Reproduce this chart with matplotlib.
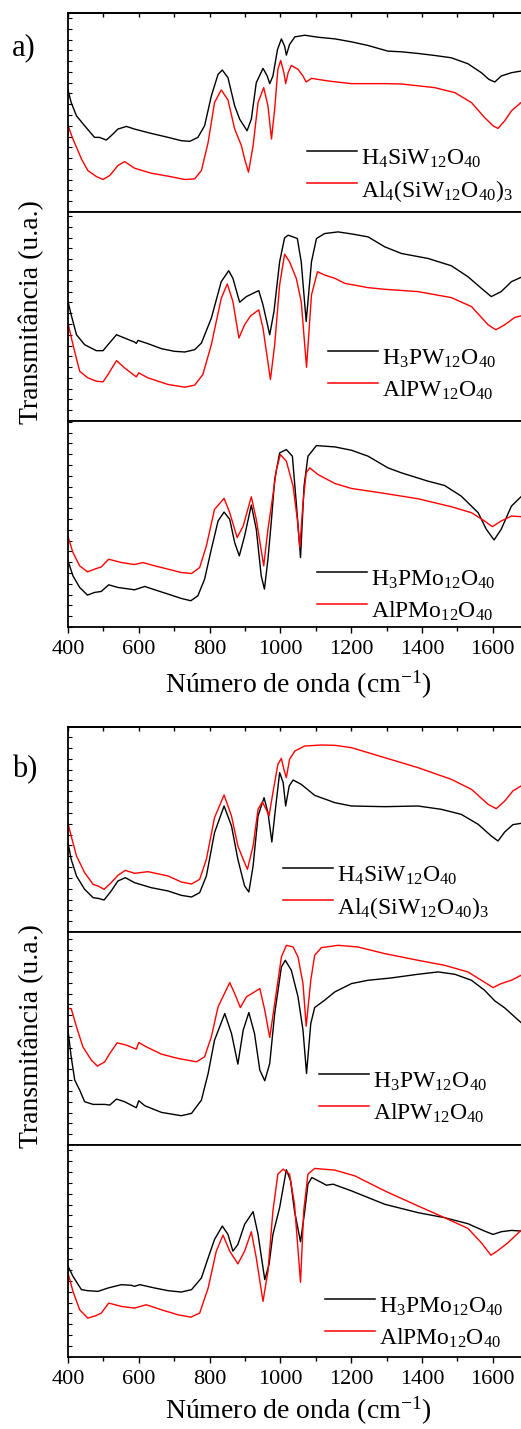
import matplotlib
matplotlib.use('Agg')
import matplotlib.pyplot as plt
from matplotlib.ticker import MultipleLocator, NullFormatter

plt.rcParams['font.family'] = ['Liberation Serif', 'DejaVu Serif']
plt.rcParams['mathtext.fontset'] = 'custom'
plt.rcParams['mathtext.rm'] = 'Liberation Serif'
plt.rcParams['mathtext.default'] = 'regular'

# ---------------------------------------------------------------- data
# wavenumber (cm-1) / transmittance (arbitrary units)

# a) top : H4SiW12O40 / Al4(SiW12O40)3
a1_black_x = [400, 409, 424, 447, 475, 489, 508, 522, 541, 565, 588, 635, 683, 720, 744, 767, 786, 805,
              824, 836, 852, 871, 885, 906, 918, 932, 951, 963, 970, 979, 992, 1003, 1012, 1017, 1026,
              1041, 1069, 1106, 1154, 1201, 1248, 1304, 1342, 1389, 1436, 1483, 1530, 1568, 1589, 1606,
              1624, 1653, 1680]
a1_black_y = [368, 330, 290, 260, 225, 225, 217, 230, 250, 258, 250, 237, 225, 215, 213, 225, 260, 350,
              415, 428, 405, 320, 280, 245, 280, 390, 433, 410, 387, 410, 490, 522, 500, 473, 505,
              528, 533, 527, 522, 513, 502, 485, 483, 478, 472, 465, 447, 420, 400, 392,
              410, 420, 425]
a1_red_x = [400, 414, 438, 456, 480, 499, 518, 541, 560, 588, 635, 683, 730, 758, 777, 796, 814, 833,
            852, 871, 890, 899, 910, 923, 937, 953, 965, 975, 984, 993, 1001, 1010, 1015, 1022, 1031,
            1050, 1064, 1073, 1088, 1135, 1201, 1295, 1342, 1436, 1493, 1540, 1577, 1601, 1615, 1634,
            1653, 1680]
a1_red_y = [260, 220, 160, 125, 107, 98, 110, 140, 152, 132, 117, 108, 98, 100, 125, 210, 330, 368,
            338, 250, 200, 160, 120, 200, 330, 375, 320, 220, 310, 430, 457, 420, 387, 420, 442,
            430, 410, 392, 403, 395, 387, 387, 386, 375, 360, 330, 285, 260, 252, 275,
            305, 330]

# a) middle : H3PW12O40 / AlPW12O40
a2_black_x = [400, 409, 424, 447, 480, 499, 513, 537, 560, 588, 593, 598, 626, 664, 701, 730, 758, 777,
              805, 833, 854, 866, 885, 904, 927, 939, 951, 970, 982, 998, 1012, 1022, 1036, 1048, 1059,
              1073, 1088, 1102, 1125, 1163, 1201, 1248, 1295, 1342, 1417, 1483, 1530, 1568, 1596, 1624,
              1653, 1680]
a2_black_y = [360, 320, 260, 230, 212, 212, 230, 260, 250, 238, 234, 243, 233, 218, 210, 208, 215, 235,
              310, 420, 453, 430, 358, 375, 387, 393, 350, 260, 330, 480, 552, 560, 555, 550, 480,
              300, 480, 550, 565, 570, 564, 555, 525, 505, 490, 468, 435, 400, 375, 390,
              420, 433]
a2_red_x = [400, 414, 433, 456, 480, 499, 513, 537, 560, 588, 593, 600, 626, 683, 730, 758, 781, 805,
            833, 850, 866, 883, 899, 916, 939, 951, 972, 984, 998, 1012, 1026, 1045, 1059, 1074, 1088,
            1105, 1125, 1154, 1182, 1248, 1295, 1389, 1483, 1540, 1587, 1609, 1634, 1662, 1680]
a2_red_y = [295, 230, 150, 130, 120, 118, 140, 182, 160, 137, 133, 145, 130, 110, 102, 108, 140, 230,
            370, 413, 360, 250, 290, 317, 335, 280, 125, 230, 410, 503, 480, 430, 360, 162, 380,
            450, 440, 430, 415, 402, 397, 390, 372, 345, 290, 275, 290, 312, 317]

# a) bottom : H3PMo12O40 / AlPMo12O40
a3_black_x = [400, 414, 433, 455, 475, 494, 515, 541, 588, 617, 645, 683, 720, 747, 767, 786, 805, 824,
              841, 857, 871, 884, 899, 918, 932, 946, 955, 965, 975, 984, 998, 1017, 1034, 1045, 1057,
              1067, 1078, 1102, 1154, 1201, 1248, 1304, 1342, 1417, 1464, 1511, 1559, 1582, 1604, 1624,
              1653, 1680]
a3_black_y = [199, 154, 119, 96, 104, 107, 127, 119, 112, 122, 112, 99, 86, 79, 94, 144, 234, 319,
              346, 324, 254, 214, 274, 367, 294, 154, 114, 204, 324, 444, 524, 534, 514, 374, 209,
              424, 514, 546, 542, 532, 514, 479, 464, 439, 426, 394, 344, 294, 262, 294,
              364, 392]
a3_red_x = [400, 414, 433, 455, 475, 494, 515, 551, 588, 612, 645, 683, 720, 749, 772, 791, 814, 841,
            857, 878, 895, 918, 932, 953, 965, 976, 989, 1000, 1017, 1036, 1048, 1055, 1064, 1073, 1083,
            1106, 1154, 1201, 1295, 1389, 1483, 1540, 1577, 1599, 1624, 1653, 1680]
a3_red_y = [272, 224, 184, 166, 174, 181, 204, 194, 188, 194, 184, 174, 164, 161, 179, 244, 354, 387,
            344, 269, 304, 392, 324, 184, 294, 374, 474, 519, 499, 424, 324, 239, 374, 464, 479,
            459, 432, 417, 402, 386, 362, 344, 319, 302, 319, 334, 332]

# b) top : H4SiW12O40 / Al4(SiW12O40)3
b1_black_x = [400, 409, 424, 447, 471, 485, 502, 522, 541, 562, 588, 635, 683, 720, 749, 772, 791, 814,
              841, 862, 880, 899, 911, 923, 937, 954, 965, 976, 986, 998, 1008, 1015, 1025, 1036, 1059,
              1097, 1154, 1201, 1295, 1389, 1455, 1511, 1559, 1596, 1615, 1634, 1657, 1680]
b1_black_y = [268, 218, 168, 128, 103, 101, 96, 123, 153, 163, 148, 133, 123, 110, 105, 118, 168, 298,
              378, 318, 218, 138, 120, 198, 348, 403, 358, 270, 368, 478, 448, 378, 438, 456, 443,
              410, 388, 378, 376, 378, 368, 353, 323, 288, 273, 300, 322, 326]
b1_red_x = [400, 409, 424, 447, 471, 485, 502, 522, 541, 562, 588, 626, 683, 720, 749, 772, 791, 814,
            841, 862, 880, 895, 907, 923, 937, 949, 960, 968, 979, 993, 1003, 1010, 1017, 1026, 1041,
            1069, 1116, 1154, 1201, 1295, 1389, 1483, 1540, 1587, 1610, 1634, 1657, 1680]
b1_red_y = [326, 288, 228, 178, 143, 138, 128, 148, 170, 185, 176, 181, 168, 150, 144, 158, 218, 343,
            411, 348, 258, 218, 188, 258, 368, 390, 368, 348, 418, 503, 521, 488, 463, 518, 543,
            558, 561, 560, 553, 523, 493, 458, 428, 383, 370, 393, 423, 438]

# b) middle : H3PW12O40 / AlPW12O40
b2_black_x = [400, 409, 419, 433, 447, 471, 504, 518, 537, 560, 593, 600, 617, 664, 720, 749, 777, 796,
              814, 843, 862, 880, 895, 911, 927, 942, 956, 970, 984, 1003, 1014, 1031, 1050, 1064, 1074,
              1086, 1097, 1125, 1154, 1201, 1248, 1314, 1389, 1446, 1493, 1540, 1577, 1606, 1634, 1662,
              1680]
b2_black_y = [345, 265, 195, 165, 130, 122, 122, 120, 138, 130, 112, 133, 118, 98, 88, 95, 135, 215,
              315, 395, 335, 243, 345, 398, 335, 225, 193, 245, 395, 535, 555, 525, 445, 345, 215,
              365, 413, 435, 460, 485, 495, 502, 513, 520, 513, 495, 465, 433, 412, 385,
              368]
b2_red_x = [400, 409, 424, 442, 466, 483, 504, 518, 539, 565, 593, 600, 621, 664, 711, 763, 786, 805,
            824, 857, 871, 887, 904, 927, 942, 956, 970, 984, 1003, 1017, 1036, 1050, 1064, 1073, 1086,
            1097, 1116, 1163, 1219, 1295, 1389, 1464, 1530, 1568, 1601, 1624, 1653, 1680]
b2_red_y = [410, 410, 355, 295, 255, 237, 250, 275, 307, 300, 288, 308, 295, 273, 260, 250, 265, 325,
            415, 488, 455, 413, 445, 460, 470, 405, 323, 425, 565, 600, 595, 565, 485, 357, 495,
            570, 593, 600, 595, 575, 555, 540, 520, 495, 473, 485, 495, 510]

# b) bottom : H3PMo12O40 / AlPMo12O40
b3_black_x = [400, 414, 438, 456, 485, 513, 551, 579, 588, 603, 645, 683, 720, 749, 777, 796, 814, 836,
              852, 866, 880, 899, 923, 937, 956, 968, 979, 998, 1008, 1017, 1029, 1040, 1057, 1069, 1078,
              1089, 1116, 1130, 1149, 1201, 1295, 1389, 1464, 1530, 1577, 1601, 1624, 1653, 1680]
b3_black_y = [271, 241, 201, 198, 196, 206, 216, 214, 211, 216, 206, 198, 194, 201, 236, 296, 351, 391,
              366, 316, 336, 396, 434, 366, 231, 276, 366, 446, 506, 559, 526, 436, 344, 436, 516,
              536, 521, 513, 516, 496, 456, 431, 416, 398, 376, 366, 374, 378, 376]
b3_red_x = [400, 414, 433, 456, 480, 494, 515, 551, 588, 621, 664, 711, 747, 772, 796, 819, 838, 857,
            880, 899, 918, 932, 951, 965, 979, 993, 1008, 1026, 1040, 1057, 1066, 1078, 1097, 1154, 1210,
            1295, 1389, 1464, 1530, 1568, 1595, 1615, 1643, 1680]
b3_red_y = [251, 196, 141, 116, 124, 131, 161, 151, 146, 156, 141, 126, 119, 131, 206, 316, 364, 316,
            278, 316, 374, 296, 166, 256, 436, 546, 561, 546, 456, 223, 436, 546, 563, 558, 541,
            496, 451, 416, 384, 341, 304, 318, 341, 378]

lbl_siw = ['H$_4$SiW$_{12}$O$_{40}$', 'Al$_4$(SiW$_{12}$O$_{40}$)$_3$']
lbl_pw = ['H$_3$PW$_{12}$O$_{40}$', 'AlPW$_{12}$O$_{40}$']
lbl_pmo = ['H$_3$PMo$_{12}$O$_{40}$', 'AlPMo$_{12}$O$_{40}$']

# ---------------------------------------------------------------- layout (pixels)
W, H = 521, 1429
LEFT = 68

# top px, bottom px, ymax, data, labels, legend line x (px), legend row y (px)
panels = [
    (13, 212, 600, (a1_black_x, a1_black_y, a1_red_x, a1_red_y), lbl_siw, 307, 151),
    (212, 421, 630, (a2_black_x, a2_black_y, a2_red_x, a2_red_y), lbl_pw, 328, 351),
    (421, 627, 620, (a3_black_x, a3_black_y, a3_red_x, a3_red_y), lbl_pmo, 317, 572),
    (727, 932, 615, (b1_black_x, b1_black_y, b1_red_x, b1_red_y), lbl_siw, 283, 868),
    (932, 1145, 640, (b2_black_x, b2_black_y, b2_red_x, b2_red_y), lbl_pw, 319, 1074),
    (1145, 1357, 633, (b3_black_x, b3_black_y, b3_red_x, b3_red_y), lbl_pmo, 325, 1299),
]


def draw_legend(fig, lx, ly, labels):
    # hand-made legend: short line, text baseline a bit below the line
    for i, (lab, col) in enumerate(zip(labels, ['black', 'red'])):
        y = ly + i * 32
        fig.add_artist(plt.Line2D([lx / W, (lx + 50) / W], [1 - y / H, 1 - y / H],
                                  color=col, lw=1.1, transform=fig.transFigure))
        fig.text((lx + 54) / W, 1 - (y + 14) / H, lab, fontsize=17,
                 ha='left', va='baseline')


fig = plt.figure(figsize=(W / 100, H / 100), dpi=100)

for k, (top, bot, ymax, (bx, by, rx, ry), labels, lx, ly) in enumerate(panels):
    ax = fig.add_axes([LEFT / W, 1 - bot / H, (W - LEFT) / W, (bot - top) / H])
    ax.plot(bx, by, color='black', lw=1.0)
    ax.plot(rx, ry, color='red', lw=1.0)
    ax.set_xlim(400, 1680)
    ax.set_ylim(0, ymax)
    for s in ax.spines.values():
        s.set_linewidth(1.3)
    ax.spines['right'].set_visible(False)

    ax.xaxis.set_major_locator(MultipleLocator(200))
    ax.xaxis.set_minor_locator(MultipleLocator(100))
    ax.yaxis.set_major_locator(MultipleLocator(32.5))
    ax.yaxis.set_major_formatter(NullFormatter())
    ax.tick_params(axis='x', which='major', direction='out', length=4, width=1.0,
                   labelsize=16, pad=5)
    ax.tick_params(axis='x', which='minor', direction='out', length=3, width=1.0)
    ax.tick_params(axis='y', which='major', direction='in', length=3, width=0.8)
    if k % 3 != 2:
        ax.xaxis.set_major_formatter(NullFormatter())
    if k % 3 == 0:
        sec = ax.secondary_xaxis('top')
        sec.xaxis.set_major_locator(MultipleLocator(100))
        sec.xaxis.set_major_formatter(NullFormatter())
        sec.tick_params(direction='in', length=3, width=1.0)
        sec.spines['top'].set_linewidth(1.3)

    draw_legend(fig, lx, ly, labels)

# panel letters, axis titles
fig.text(12 / W, 1 - 48 / H, 'a)', fontsize=22, ha='left', va='center')
fig.text(12 / W, 1 - 770 / H, 'b)', fontsize=22, ha='left', va='center')
for yc in (312, 1036):
    fig.text(31 / W, 1 - yc / H, 'Transmitância (u.a.)', fontsize=20, rotation=90,
             ha='center', va='center')
for yc in (685, 1411):
    fig.text(298 / W, 1 - yc / H, 'Número de onda (cm$^{-1}$)', fontsize=20,
             ha='center', va='center')

fig.savefig('out.png', dpi=100)
